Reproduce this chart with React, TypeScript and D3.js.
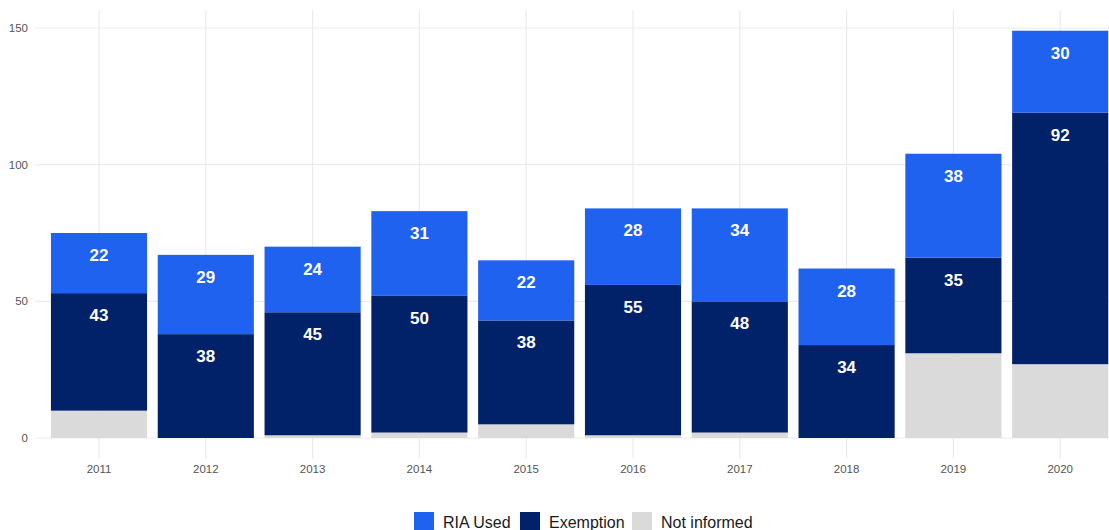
import React from "react";
import * as d3 from "d3";

const years = ["2011", "2012", "2013", "2014", "2015", "2016", "2017", "2018", "2019", "2020"];
const notInformed = [10, 0, 1, 2, 5, 1, 2, 0, 31, 27];
const exemption = [43, 38, 45, 50, 38, 55, 48, 34, 35, 92];
const riaUsed = [22, 29, 24, 31, 22, 28, 34, 28, 38, 30];
const yTicks = [0, 50, 100, 150];

const seriesNames = ["Not informed", "Exemption", "RIA Used"];
const colors: Record<string, string> = {
  "RIA Used": "#1f62f0",
  Exemption: "#012169",
  "Not informed": "#dadada",
};
const legendOrder = ["RIA Used", "Exemption", "Not informed"];

export default function App() {
  const W = 1109;
  const H = 530;
  const panelLeft = 35;
  const step = 106.8;
  const firstCenter = 99;
  const x = d3
    .scaleBand<string>()
    .domain(years)
    .range([firstCenter - step / 2, firstCenter - step / 2 + step * years.length])
    .paddingInner(0.1)
    .paddingOuter(0.05);
  const y = d3.scaleLinear().domain([0, 150]).range([438, 28]);
  const panelTop = y(156.45);
  const panelBottom = y(-7.45);

  const table = years.map((yr, i) => ({
    year: yr,
    "Not informed": notInformed[i],
    Exemption: exemption[i],
    "RIA Used": riaUsed[i],
  }));
  const stack = d3.stack<any>().keys(seriesNames);
  const layers = stack(table);

  const font = "'Liberation Sans', Arial, Helvetica, sans-serif";
  const legendX = [414, 520, 632];

  return (
    <svg width={W} height={H} style={{ position: "absolute", left: 0, top: 0, background: "#fff" }}>
      {/* grid */}
      {yTicks.map((t) => (
        <line key={"h" + t} x1={panelLeft} x2={W} y1={y(t)} y2={y(t)} stroke="#ebebeb" strokeWidth={1.2} />
      ))}
      {years.map((yr) => {
        const cx = (x(yr) as number) + x.bandwidth() / 2;
        return <line key={"v" + yr} x1={cx} x2={cx} y1={panelTop} y2={panelBottom} stroke="#ebebeb" strokeWidth={1.2} />;
      })}
      {/* bars */}
      {layers.map((layer) => (
        <g key={layer.key} fill={colors[layer.key]}>
          {layer.map((d, i) =>
            d[1] - d[0] > 0 ? (
              <rect
                key={i}
                x={x(years[i])}
                width={x.bandwidth()}
                y={y(d[1])}
                height={y(d[0]) - y(d[1])}
              />
            ) : null
          )}
        </g>
      ))}
      {/* value labels */}
      {layers
        .filter((l) => l.key !== "Not informed")
        .map((layer) => (
          <g key={"lab" + layer.key}>
            {layer.map((d, i) => (
              <text
                key={i}
                x={(x(years[i]) as number) + x.bandwidth() / 2}
                y={y(d[1]) + 28}
                textAnchor="middle"
                fill="#ffffff"
                fontFamily={font}
                fontWeight="bold"
                fontSize={17}
              >
                {d[1] - d[0]}
              </text>
            ))}
          </g>
        ))}
      {/* y axis labels */}
      {yTicks.map((t) => (
        <text key={"yl" + t} x={28} y={y(t) + 4} textAnchor="end" fill="#555555" fontFamily={font} fontSize={11.5}>
          {t}
        </text>
      ))}
      {/* x axis labels */}
      {years.map((yr) => (
        <text
          key={"xl" + yr}
          x={(x(yr) as number) + x.bandwidth() / 2}
          y={473}
          textAnchor="middle"
          fill="#555555"
          fontFamily={font}
          fontSize={11.5}
        >
          {yr}
        </text>
      ))}
      {/* legend */}
      {legendOrder.map((name, i) => (
        <g key={"lg" + name}>
          <rect x={legendX[i]} y={512} width={20} height={20} fill={colors[name]} />
          <text x={legendX[i] + 29} y={528} fill="#1a1a1a" fontFamily={font} fontSize={16}>
            {name}
          </text>
        </g>
      ))}
    </svg>
  );
}
